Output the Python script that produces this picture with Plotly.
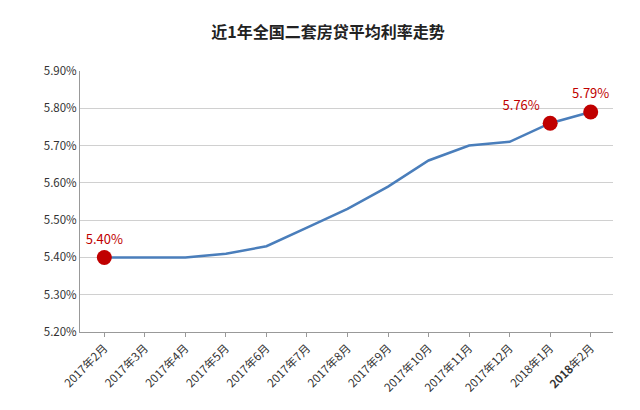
import plotly.graph_objects as go

months = ['2017年2月', '2017年3月', '2017年4月', '2017年5月', '2017年6月', '2017年7月',
          '2017年8月', '2017年9月', '2017年10月', '2017年11月', '2017年12月',
          '2018年1月', '2018年2月']
rates = [5.40, 5.40, 5.40, 5.41, 5.43, 5.48, 5.53, 5.59, 5.66, 5.70, 5.71, 5.76, 5.79]
marked = [0, 11, 12]
marked_labels = ['5.40%', '5.76%', '5.79%']
tick_labels = months[:-1] + ['<b>2018</b>年2月']

fig = go.Figure()
fig.add_trace(go.Scatter(x=list(range(len(months))), y=rates, mode='lines',
                         line=dict(color='#4a7ebb', width=2.5), hoverinfo='skip'))
fig.add_trace(go.Scatter(x=marked, y=[rates[i] for i in marked], mode='markers+text',
                         marker=dict(color='#c00000', size=15),
                         text=marked_labels, textposition=['top center', 'top left', 'top center'],
                         textfont=dict(color='#c00000', size=13)))

fig.update_layout(
    width=640, height=410, showlegend=False, template='plotly_white',
    font=dict(family='Noto Sans CJK SC', color='#333'),
    title=dict(text='<b>近1年全国二套房贷平均利率走势</b>', x=0.5, y=0.955, font=dict(size=16, color='#222')),
    margin=dict(l=72, r=35, t=63, b=86),
    plot_bgcolor='white', paper_bgcolor='white',
)
fig.update_xaxes(tickvals=list(range(len(months))), ticktext=tick_labels, tickangle=-45,
                 range=[-0.6, 12.55], showgrid=False, showline=True, linecolor='#999',
                 zeroline=False, ticks='outside', ticklen=4, tickcolor='#999',
                 tickfont=dict(size=11.5))
fig.update_yaxes(range=[5.20, 5.90], dtick=0.1, tickformat='.2f', ticksuffix='%',
                 gridcolor='#d0d0d0', showline=True, linecolor='#999',
                 tickfont=dict(size=11.5), zeroline=False)

fig.write_html("out.html")
